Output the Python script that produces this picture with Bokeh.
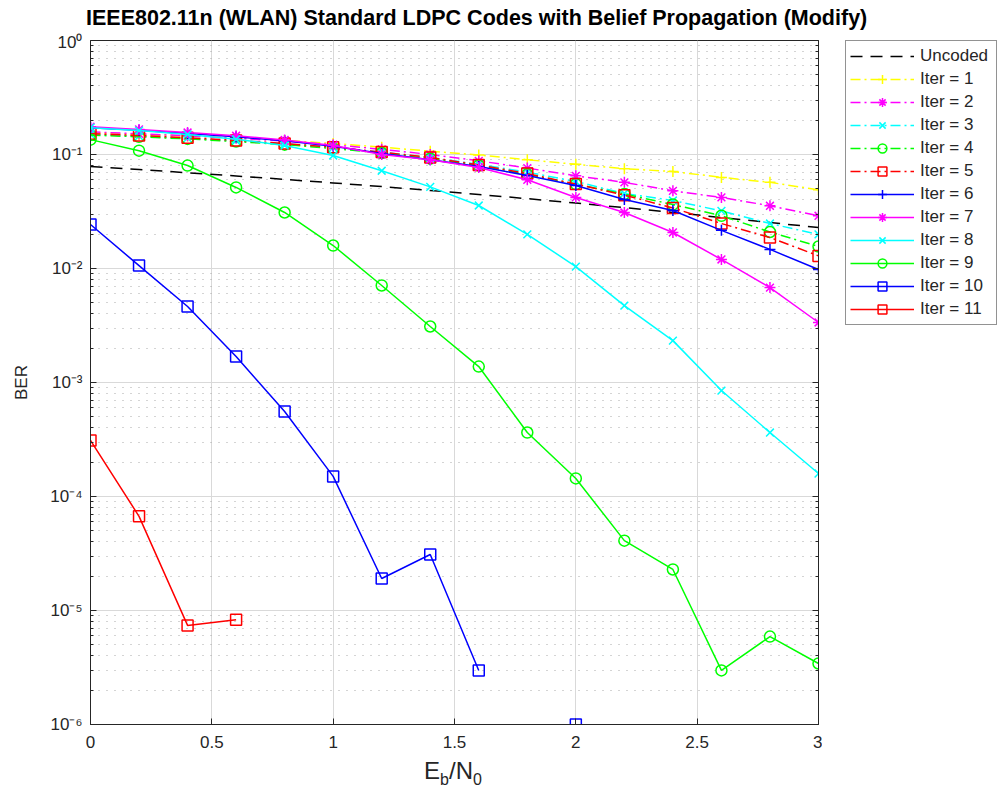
import math
from bokeh.plotting import figure
from bokeh.layouts import column, row
from bokeh.models import (Range1d, LogAxis, Legend, LegendItem, Div,
                          FixedTicker, CustomJSTickFormatter)
from bokeh.embed import file_html
from bokeh.resources import INLINE

nan = float("nan")

ebn0 = [0.0, 0.2, 0.4, 0.6, 0.8, 1.0, 1.2, 1.4, 1.6, 1.8, 2.0, 2.2, 2.4, 2.6, 2.8, 3.0]

uncoded = [0.0786, 0.0738, 0.0692, 0.0648, 0.0605, 0.0563, 0.0523, 0.0484,
           0.0446, 0.0410, 0.0375, 0.0342, 0.0310, 0.0280, 0.0253, 0.0229]
iter1 = [0.155, 0.150, 0.145, 0.140, 0.133, 0.125, 0.116, 0.107,
         0.099, 0.090, 0.082, 0.075, 0.071, 0.063, 0.057, 0.049]
iter2 = [0.158, 0.152, 0.146, 0.139, 0.131, 0.122, 0.111, 0.100,
         0.088, 0.076, 0.065, 0.057, 0.048, 0.042, 0.0355, 0.029]
iter3 = [0.150, 0.145, 0.139, 0.132, 0.124, 0.115, 0.105, 0.094,
         0.082, 0.070, 0.058, 0.0455, 0.0395, 0.032, 0.0248, 0.0199]
iter4 = [0.148, 0.143, 0.137, 0.130, 0.122, 0.113, 0.103, 0.092,
         0.080, 0.067, 0.055, 0.045, 0.0364, 0.029, 0.0209, 0.0156]
iter5 = [0.152, 0.147, 0.140, 0.133, 0.125, 0.116, 0.105, 0.094,
         0.081, 0.068, 0.055, 0.044, 0.034, 0.0248, 0.0187, 0.0129]
iter6 = [0.172, 0.163, 0.153, 0.143, 0.132, 0.118, 0.102, 0.090,
         0.0785, 0.0655, 0.0535, 0.0403, 0.0323, 0.0216, 0.0147, 0.0098]
iter7 = [0.175, 0.166, 0.156, 0.146, 0.134, 0.120, 0.100, 0.090,
         0.077, 0.060, 0.042, 0.031, 0.0207, 0.012, 0.0068, 0.00336]
iter8 = [0.172, 0.162, 0.150, 0.136, 0.120, 0.098, 0.072, 0.052,
         0.0357, 0.0199, 0.0104, 0.00473, 0.00233, 0.00085, 0.000364, 0.000159]
iter9 = [0.135, 0.108, 0.080, 0.0514, 0.031, 0.0159, 0.0071, 0.0031,
         0.00138, 0.000364, 0.000144, 4.1e-5, 2.29e-5, 2.98e-6, 5.9e-6, 3.43e-6]
iter10 = [0.0243, 0.0106, 0.00464, 0.00169, 0.000557, 0.000150, 1.91e-5, 3.1e-5,
          2.98e-6, nan, 1.0e-6, nan, nan, nan, nan, nan]
iter11 = [3.1e-4, 6.7e-5, 7.4e-6, 8.3e-6, nan, nan, nan, nan,
          nan, nan, nan, nan, nan, nan, nan, nan]

series_labels = ["Iter = 1", "Iter = 2", "Iter = 3", "Iter = 4", "Iter = 5", "Iter = 6",
                 "Iter = 7", "Iter = 8", "Iter = 9", "Iter = 10", "Iter = 11"]
series_values = [iter1, iter2, iter3, iter4, iter5, iter6, iter7, iter8, iter9, iter10, iter11]
series_colors = ["#ffff00", "#ff00ff", "#00ffff", "#00ff00", "#ff0000", "#0000ff",
                 "#ff00ff", "#00ffff", "#00ff00", "#0000ff", "#ff0000"]
series_markers = ["cross", "asterisk", "x", "circle", "square", "cross",
                  "asterisk", "x", "circle", "square", "square"]
series_dash = ["10 4 2 4"] * 5 + ["solid"] * 6

x_ticks = [0, 0.5, 1, 1.5, 2, 2.5, 3]
y_ticks = [1e-6, 1e-5, 1e-4, 1e-3, 1e-2, 1e-1, 1e0]

FONT = "Liberation Sans"
TXT = "#262626"

# ---------- main plot ----------
p = figure(width=822, height=722, y_axis_type="log",
           x_range=Range1d(0, 3), y_range=Range1d(1e-6, 1),
           output_backend="svg", toolbar_location=None,
           min_border_left=90, min_border_right=4, min_border_top=8, min_border_bottom=30)
p.outline_line_color = "#262626"
p.outline_line_width = 1
p.background_fill_color = "white"
p.border_fill_color = "white"

minor = []
for e in range(-6, 0):
    for k in range(2, 10):
        minor.append(k * 10.0 ** e)

ytk = FixedTicker(ticks=y_ticks, minor_ticks=minor)
xtk = FixedTicker(ticks=x_ticks, minor_ticks=[])

fmt = CustomJSTickFormatter(code="""
const sup = {'0':'\u2070','1':'\u00b9','2':'\u00b2','3':'\u00b3','4':'\u2074','5':'\u2075',
             '6':'\u2076','7':'\u2077','8':'\u2078','9':'\u2079','-':'\u207b'};
const e = String(Math.round(Math.log10(tick)));
let s = '';
for (const c of e) { s += sup[c]; }
return '10' + s;
""")

for ax in p.yaxis:
    ax.ticker = ytk
    ax.formatter = fmt
for ax in p.xaxis:
    ax.ticker = xtk

for ax in list(p.xaxis) + list(p.yaxis):
    ax.axis_line_color = "#262626"
    ax.major_tick_in = 6
    ax.major_tick_out = 0
    ax.minor_tick_in = 3
    ax.minor_tick_out = 0
    ax.major_tick_line_color = "#262626"
    ax.minor_tick_line_color = "#262626"
    ax.major_label_text_font = FONT
    ax.major_label_text_font_size = "17px"
    ax.major_label_text_color = TXT

p.yaxis.axis_label = "BER"
p.yaxis.axis_label_text_font = FONT
p.yaxis.axis_label_text_font_size = "17px"
p.yaxis.axis_label_text_font_style = "normal"
p.yaxis.axis_label_text_color = TXT
p.yaxis.axis_label_standoff = 16
p.yaxis.major_label_standoff = 8
p.xaxis.major_label_standoff = 11

# mirror ticks on the right edge
rax = LogAxis(ticker=ytk, formatter=CustomJSTickFormatter(code="return '';"),
              major_tick_in=6, major_tick_out=0,
              minor_tick_in=3, minor_tick_out=0, axis_line_color="#262626",
              major_tick_line_color="#262626", minor_tick_line_color="#262626",
              major_label_standoff=0)
p.add_layout(rax, "right")

p.xgrid.ticker = xtk
p.ygrid.ticker = ytk
p.xgrid.grid_line_color = "#d9d9d9"
p.ygrid.grid_line_color = "#d9d9d9"
p.ygrid.minor_grid_line_color = "#a8a8a8"
p.ygrid.minor_grid_line_dash = "1 7"

p.line(ebn0, uncoded, line_color="#000000", line_width=1.5, line_dash="12 8")
for vals, col, mk, dash in zip(series_values, series_colors, series_markers, series_dash):
    p.line(ebn0, vals, line_color=col, line_width=1.5, line_dash=dash)
    p.scatter(ebn0, vals, marker=mk, size=11, line_color=col, line_width=1.5,
              fill_color=None)

# ---------- legend panel (outside the axes, like the reference) ----------
lg = figure(width=175, height=722, x_range=Range1d(0, 1), y_range=Range1d(0, 1),
            output_backend="svg", toolbar_location=None,
            x_axis_location=None, y_axis_location=None,
            min_border_left=23, min_border_right=0, min_border_top=6, min_border_bottom=0)
lg.outline_line_color = None
lg.grid.visible = False
lg.background_fill_color = "white"
lg.border_fill_color = "white"

# legend proxy glyphs: placed outside this panel's visible range, only their style is shown
px = [-5.0, -4.0]
py = [-5.0, -4.0]
items = []
r_unc = lg.line(px, py, line_color="#000000", line_width=1.5, line_dash="12 8")
items.append(LegendItem(label="Uncoded", renderers=[r_unc]))
for lab, col, mk, dash in zip(series_labels, series_colors, series_markers, series_dash):
    rl = lg.line(px, py, line_color=col, line_width=1.5, line_dash=dash)
    rs = lg.scatter(px, py, marker=mk, size=11, line_color=col, line_width=1.5,
                    fill_color=None)
    items.append(LegendItem(label=lab, renderers=[rl, rs]))

legend = Legend(items=items, location="top_left", margin=0, padding=4, spacing=1,
                glyph_width=64, glyph_height=22, label_height=22, label_width=72,
                label_standoff=6, label_text_font=FONT, label_text_font_size="17px",
                label_text_color=TXT, border_line_color="#262626", border_line_width=1.5,
                background_fill_color="white", background_fill_alpha=1.0)
lg.add_layout(legend, "center")

# ---------- title and x-axis label as real text ----------
title = Div(
    text='<div style="font-family: \'Liberation Sans\'; font-weight: bold; font-size: 21.5px; '
         'color: #000000; white-space: nowrap; padding-top: 6px; line-height: 24px;">'
         'IEEE802.11n (WLAN) Standard LDPC Codes with Belief Propagation (Modify)</div>',
    width=900, height=32, margin=(0, 0, 0, 86))

xlabel = Div(
    text='<div style="font-family: \'Liberation Sans\'; font-size: 24px; color: #262626; '
         'text-align: center; width: 140px; padding-top: 4px; line-height: 25px;">'
         'E<sub style="font-size: 16px;">b</sub>/N<sub style="font-size: 16px;">0</sub></div>',
    width=140, height=40, margin=(0, 0, 0, 383))

layout = column(title, row(p, lg, spacing=0), xlabel, spacing=0)

open("out.html", "w").write(file_html(layout, INLINE))
